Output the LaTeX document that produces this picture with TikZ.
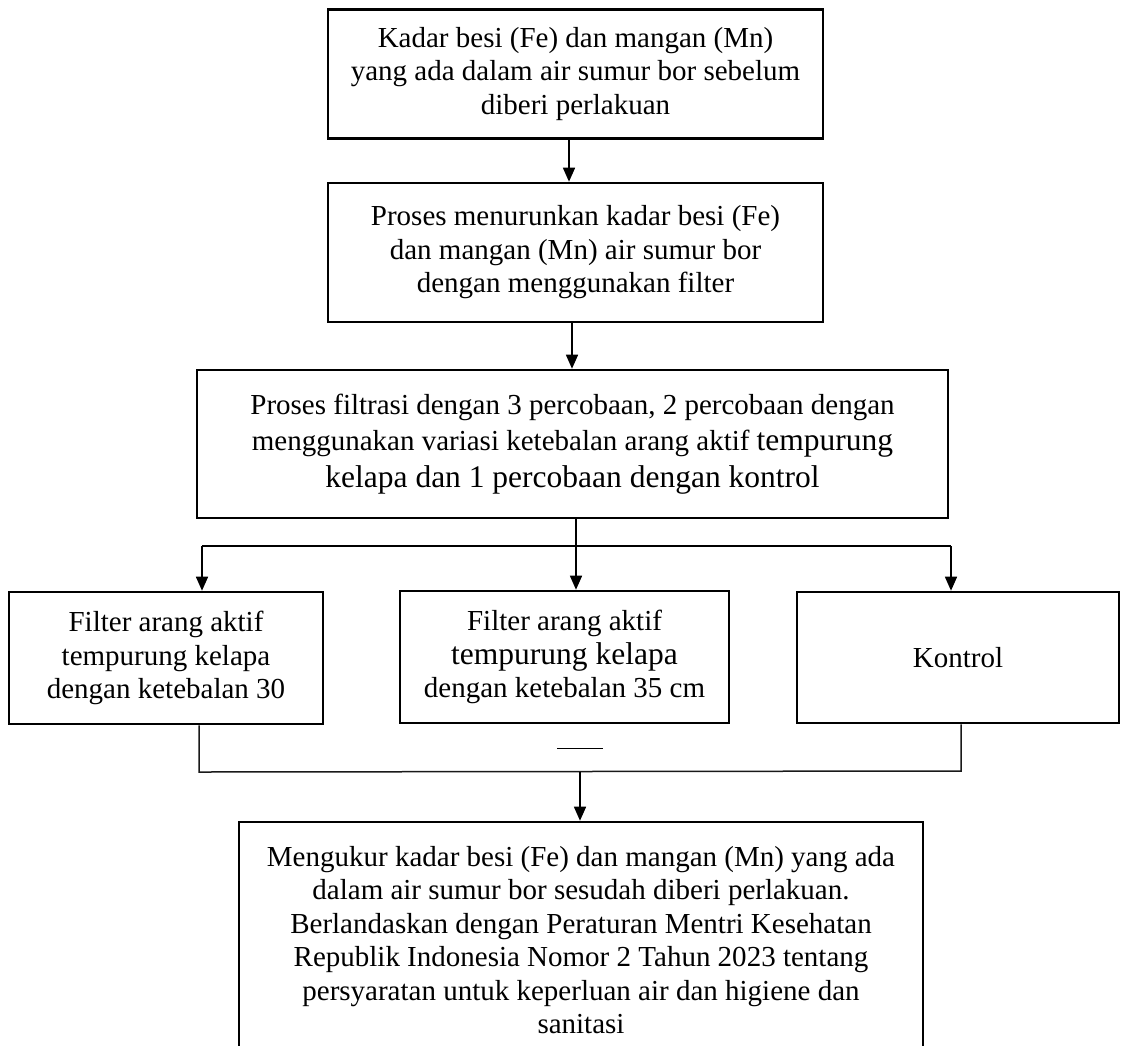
\documentclass[tikz,border=0pt]{standalone}
\usepackage{fontspec}
\setmainfont{Liberation Serif}
\usetikzlibrary{arrows.meta}
\newcommand{\bigt}[1]{{\fontsize{31.5}{36}\selectfont #1}}
\begin{document}
\begin{tikzpicture}[x=1pt,y=-1pt,
  fbox/.style={draw,line width=2.6pt,align=center,inner sep=0pt,font=\fontsize{29}{33.5}\selectfont},
  arr/.style={line width=1.6pt,-{Triangle[length=14pt,width=12pt]}},
  link/.style={line width=1.5pt,draw=black!90}]
\useasboundingbox (0,0) rectangle (1126,1045);
\clip (0,0) rectangle (1126,1045);
\fill[white] (0,0) rectangle (1126,1045);

\node[fbox,minimum width=495pt,minimum height=129pt] (b1) at (575.5,74)
  {Kadar besi (Fe) dan mangan (Mn)\\yang ada dalam air sumur bor sebelum\\diberi perlakuan};
\node[fbox,minimum width=495pt,minimum height=139pt] (b2) at (575.5,252.5)
  {Proses menurunkan kadar besi (Fe)\\dan mangan (Mn) air sumur bor\\dengan menggunakan filter};
\node[fbox,minimum width=751pt,minimum height=148pt,font=\fontsize{29}{36.5}\selectfont] (b3) at (572.5,444)
  {Proses filtrasi dengan 3 percobaan, 2 percobaan dengan\\menggunakan variasi ketebalan arang aktif \bigt{tempurung}\\\bigt{kelapa dan 1 percobaan dengan kontrol}};
\node[fbox,minimum width=314pt,minimum height=132pt] (L) at (166,658)
  {Filter arang aktif\\tempurung kelapa\\dengan ketebalan 30};
\node[fbox,minimum width=329pt,minimum height=132pt] (M) at (564.5,657)
  {Filter arang aktif\\\bigt{tempurung kelapa}\\dengan ketebalan 35 cm};
\node[fbox,minimum width=322pt,minimum height=131pt] (R) at (958,657.5)
  {Kontrol};
\node[fbox,minimum width=684pt,minimum height=236pt] (B) at (581,940)
  {Mengukur kadar besi (Fe) dan mangan (Mn) yang ada\\dalam air sumur bor sesudah diberi perlakuan.\\Berlandaskan dengan Peraturan Mentri Kesehatan\\Republik Indonesia Nomor 2 Tahun 2023 tentang\\persyaratan untuk keperluan air dan higiene dan\\sanitasi};

\coordinate (a1) at (569,0);
\coordinate (a2) at (572,0);
\coordinate (sx) at (576,0);
\coordinate (hl) at (202,546);
\coordinate (hr) at (951,546);
\coordinate (bl) at (199,772);
\coordinate (br) at (961,771);
\coordinate (ba) at (580,771.5);
\coordinate (d1) at (557,748);
\coordinate (d2) at (603,748);

\draw[arr] (b1.south -| a1) -- (b2.north -| a1);
\draw[arr] (b2.south -| a2) -- (b3.north -| a2);
\draw[arr] (b3.south -| sx) -- (M.north -| sx);
\draw[line width=1.3pt] (hl) -- (hr);
\draw[arr] (hl) -- (L.north -| hl);
\draw[arr] (hr) -- (R.north -| hr);
\draw[link] (L.south -| bl) -- (bl) -- (br) -- (R.south -| br);
\draw[arr] (ba) -- (B.north -| ba);
\draw[line width=1pt] (d1) -- (d2);
\end{tikzpicture}
\end{document}
